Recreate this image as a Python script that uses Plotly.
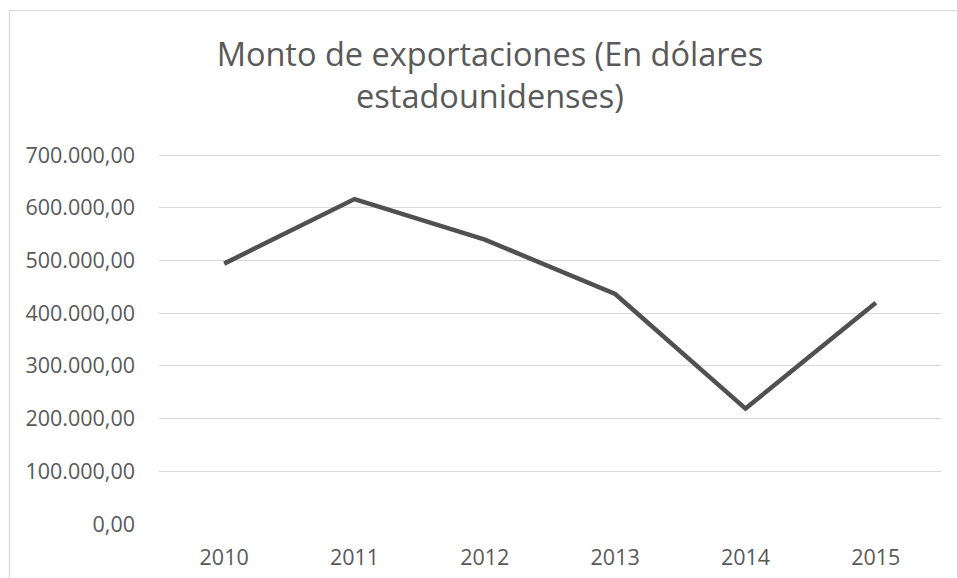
import plotly.graph_objects as go

years = ["2010", "2011", "2012", "2013", "2014", "2015"]
exports = [494000, 616500, 539500, 436500, 219000, 420000]
y_ticks = [0, 100000, 200000, 300000, 400000, 500000, 600000, 700000]
y_tick_labels = ["0,00", "100.000,00", "200.000,00", "300.000,00", "400.000,00",
                 "500.000,00", "600.000,00", "700.000,00"]

W, H = 957, 578
L, R, B = 159, 941, 524
Y_MAX = 702000
T = B - (B - 155) * Y_MAX / 700000

fig = go.Figure(go.Scatter(
    x=years, y=exports, mode="lines",
    line=dict(color="#505050", width=4.5),
    hoverinfo="x+y",
))

def px_to_paper_x(px):
    return (px - L) / (R - L)

def px_to_paper_y(py):
    return (B - py) / (B - T)

fig.add_shape(type="rect", xref="paper", yref="paper",
              x0=px_to_paper_x(9.5), x1=px_to_paper_x(1000),
              y0=px_to_paper_y(640), y1=px_to_paper_y(10.5),
              line=dict(color="#d9d9d9", width=1.3), fillcolor="rgba(0,0,0,0)", layer="below")

fig.update_layout(
    width=W, height=H,
    margin=dict(l=L, r=W - R, t=T, b=H - B, pad=0, autoexpand=False),
    paper_bgcolor="white", plot_bgcolor="white",
    showlegend=False,
    title=dict(
        text="Monto de exportaciones (En dólares<br>estadounidenses)",
        x=px_to_paper_x(490), xref="paper", xanchor="center",
        y=1 - 66 / H, yanchor="top",
        font=dict(family="Open Sans", size=32.5, color="#595959"),
    ),
    font=dict(family="Open Sans", color="#595959"),
    xaxis=dict(
        type="category", range=[-0.5, 5.5], automargin=False,
        showgrid=False, zeroline=False, showline=False,
        ticks="", tickfont=dict(size=21.5, color="#595959"),
        ticklabelstandoff=18,
    ),
    yaxis=dict(
        range=[0, Y_MAX], tickvals=y_ticks, ticktext=y_tick_labels,
        automargin=False,
        showgrid=True, gridcolor="#d9d9d9", gridwidth=1.3,
        zeroline=False, showline=False, ticks="",
        tickfont=dict(size=21.5, color="#595959"),
        ticklabelstandoff=23,
    ),
)

fig.write_html("out.html", config={"displayModeBar": False},
               post_script="document.body.style.margin='0';")
